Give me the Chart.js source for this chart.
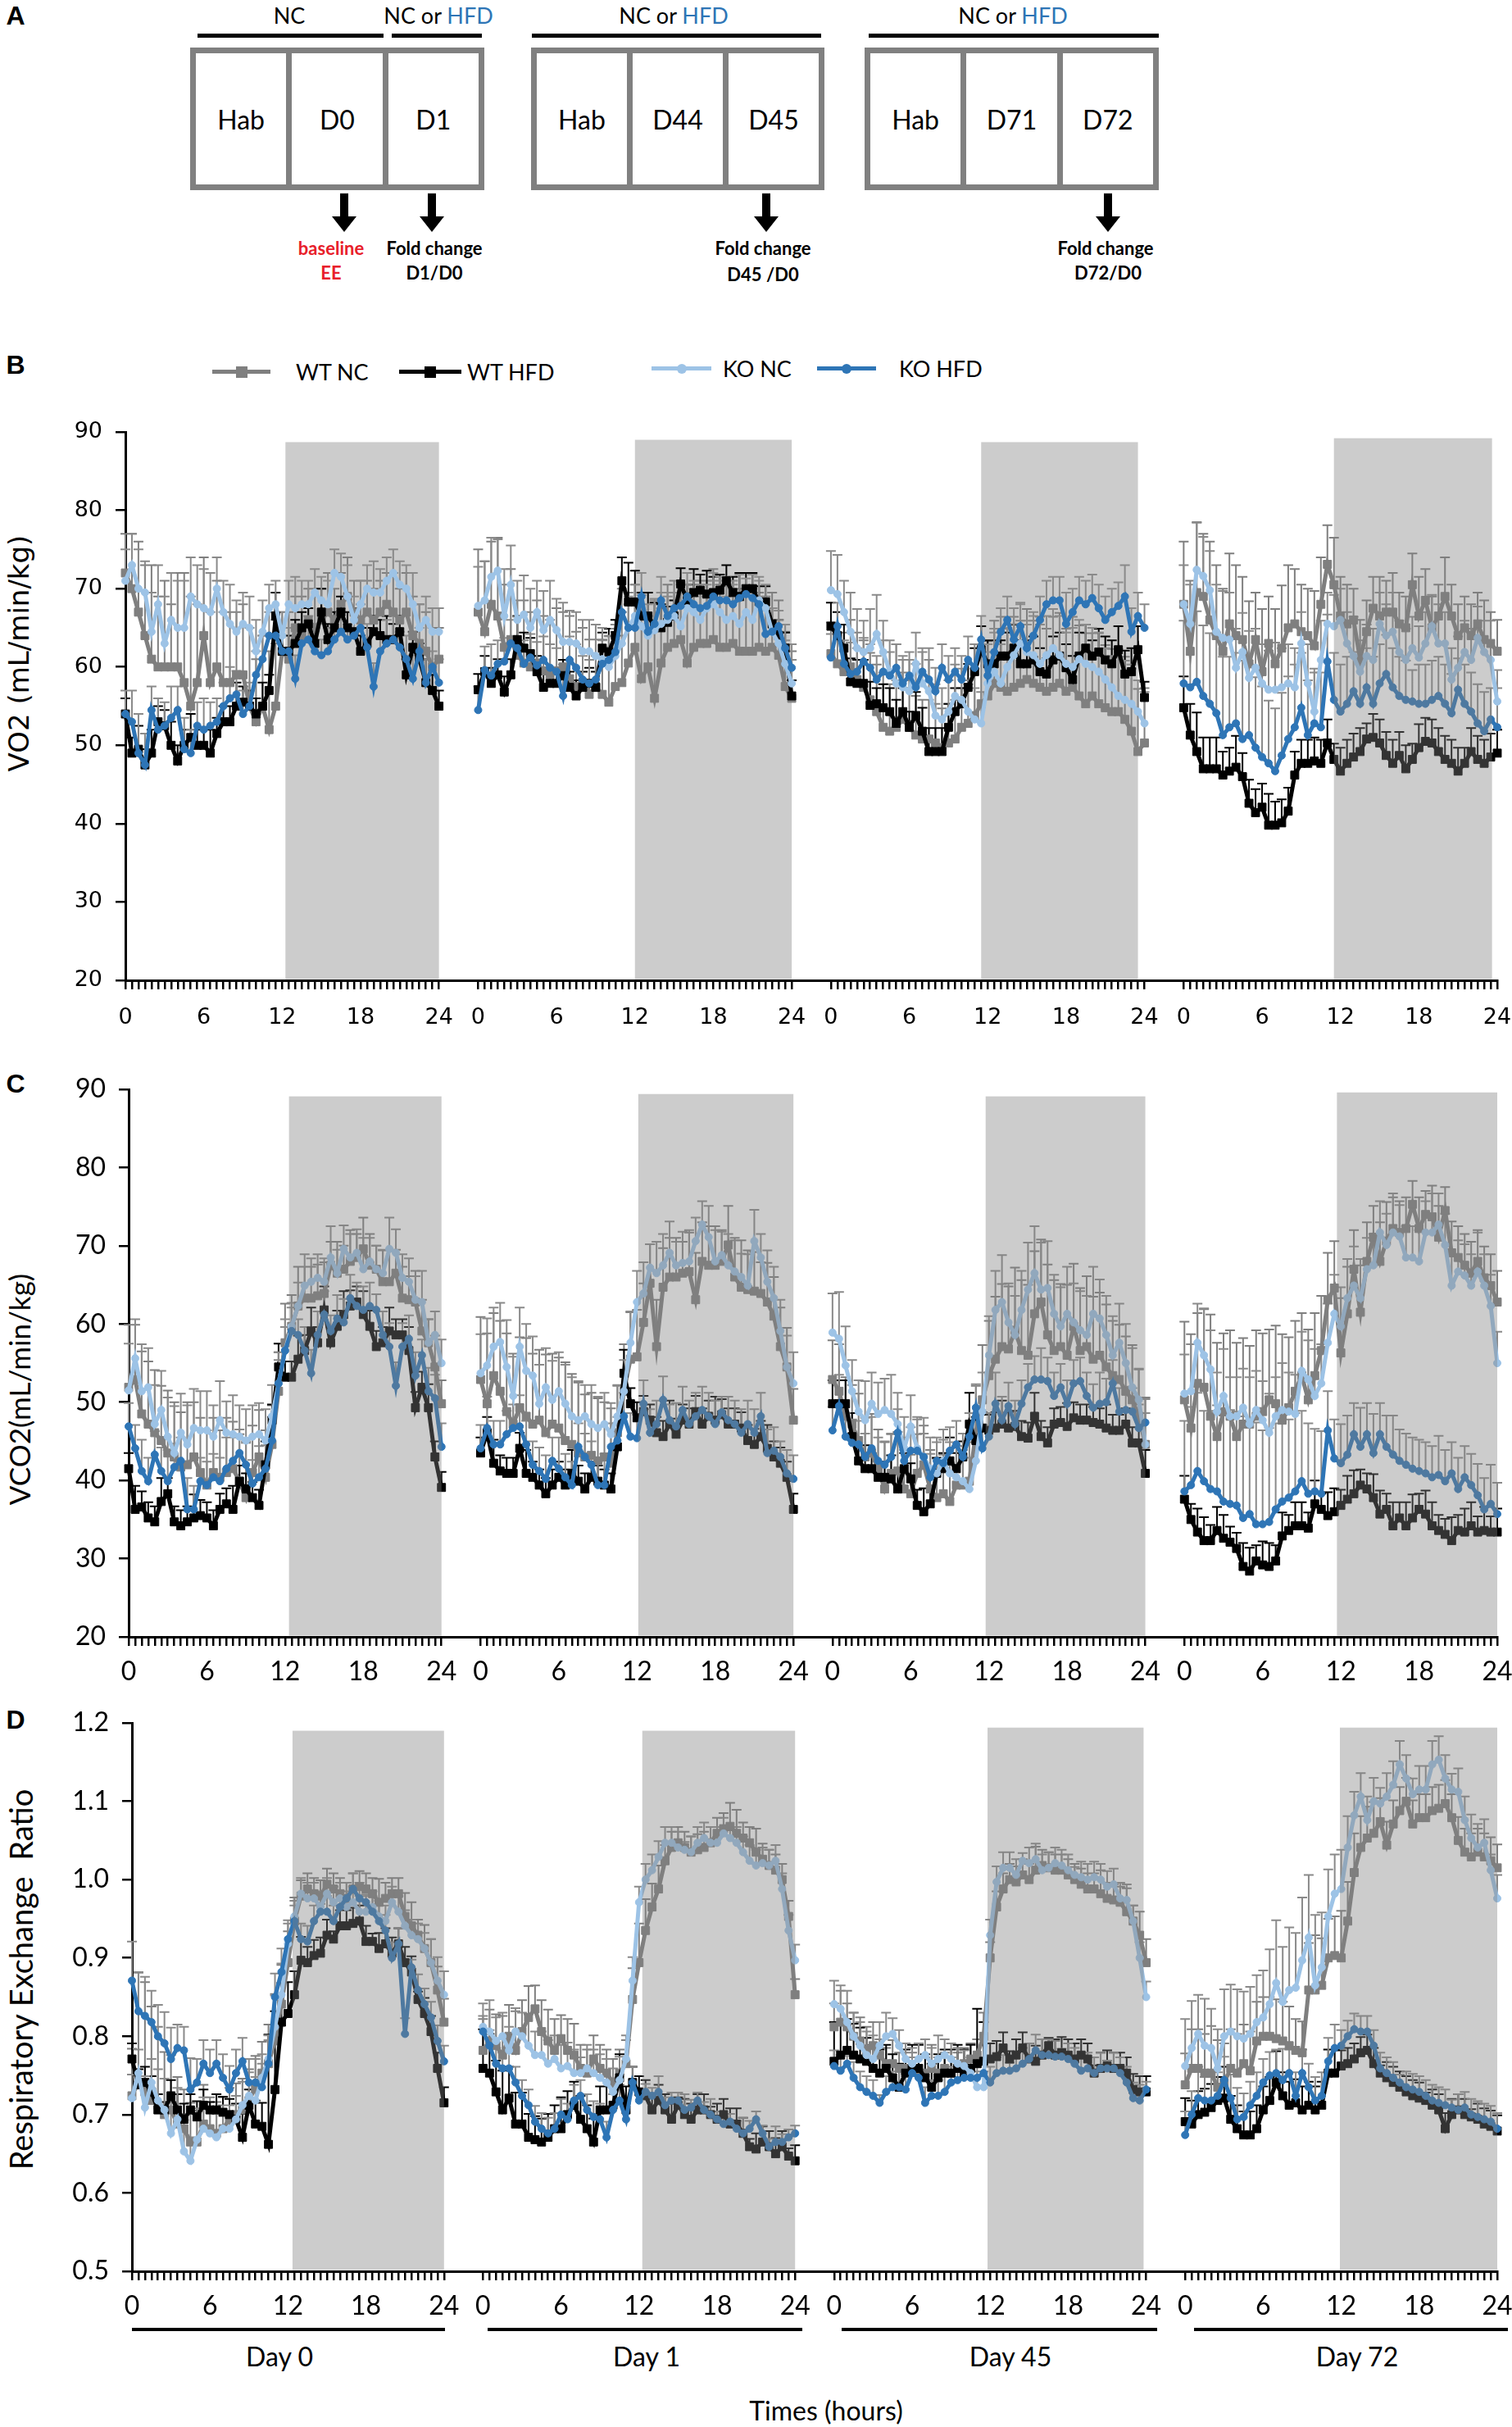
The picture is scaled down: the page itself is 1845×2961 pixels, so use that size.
<!DOCTYPE html>
<html>
<head>
<meta charset="utf-8">
<script src="https://cdn.jsdelivr.net/npm/chart.js@4.4.1/dist/chart.umd.min.js"></script>
<style>
  body { margin: 0; background: #fff; width: 1845px; height: 2961px; position: relative; overflow: hidden; font-family: Lato, "Open Sans", sans-serif; color: #000; }
  .abs { position: absolute; }
  .c { position: absolute; transform: translate(-50%, -50%); white-space: nowrap; }
  .l { position: absolute; transform: translateY(-50%); white-space: nowrap; }
  .letter { font-family: "Liberation Sans", Arial, sans-serif; font-weight: bold; font-size: 32px; }
  .box { position: absolute; box-sizing: border-box; border: 7px solid #808080; display: flex; height: 174px; top: 58px; }
  .box div { flex: 1; display: flex; align-items: center; justify-content: center; font-size: 32px; }
  .box div + div { border-left: 7px solid #808080; }
  .bar { position: absolute; height: 5px; background: #000; }
  .top { font-size: 27px; }
  .hfd { color: #2e75b6; }
  .note { font-weight: bold; font-size: 22px; }
  .leg { position: absolute; height: 5px; margin-top: -2px; }
  .leg i { position: absolute; left: 50%; top: 50%; transform: translate(-50%, -50%); }
  .sq { width: 14px; height: 14px; }
  .ci { width: 12px; height: 12px; border-radius: 50%; }
  .legtxt { font-size: 27px; }
  .ytitle { position: absolute; transform: translate(-50%, -50%) rotate(-90deg); white-space: nowrap; }
</style>
</head>
<body>

<!-- Panel A: protocol schematic -->
<div class="c letter" style="left:19px;top:19px">A</div>
<div class="c top" style="left:353px;top:18px">NC</div>
<div class="c top" style="left:535px;top:18px">NC or <span class="hfd">HFD</span></div>
<div class="c top" style="left:822px;top:18px">NC or <span class="hfd">HFD</span></div>
<div class="c top" style="left:1236px;top:18px">NC or <span class="hfd">HFD</span></div>
<div class="bar" style="left:241px;top:41px;width:227px"></div>
<div class="bar" style="left:478px;top:41px;width:110px"></div>
<div class="bar" style="left:649px;top:41px;width:353px"></div>
<div class="bar" style="left:1060px;top:41px;width:354px"></div>
<div class="box" style="left:232px;width:359px"><div>Hab</div><div>D0</div><div>D1</div></div>
<div class="box" style="left:648px;width:358px"><div>Hab</div><div>D44</div><div>D45</div></div>
<div class="box" style="left:1055px;width:359px"><div>Hab</div><div>D71</div><div>D72</div></div>
<svg class="abs" style="left:402px;top:236px" width="36" height="48"><path d="M13 0H23V28H33L18 47L3 28H13Z" fill="#000"/></svg>
<svg class="abs" style="left:509px;top:236px" width="36" height="48"><path d="M13 0H23V28H33L18 47L3 28H13Z" fill="#000"/></svg>
<svg class="abs" style="left:917px;top:236px" width="36" height="48"><path d="M13 0H23V28H33L18 47L3 28H13Z" fill="#000"/></svg>
<svg class="abs" style="left:1334px;top:236px" width="36" height="48"><path d="M13 0H23V28H33L18 47L3 28H13Z" fill="#000"/></svg>
<div class="c note" style="left:404px;top:302px;color:#e8202a">baseline</div>
<div class="c note" style="left:404px;top:332px;color:#e8202a">EE</div>
<div class="c note" style="left:530px;top:302px">Fold change</div>
<div class="c note" style="left:530px;top:332px">D1/D0</div>
<div class="c note" style="left:931px;top:302px">Fold change</div>
<div class="c note" style="left:931px;top:334px">D45 /D0</div>
<div class="c note" style="left:1349px;top:302px">Fold change</div>
<div class="c note" style="left:1352px;top:332px">D72/D0</div>

<!-- Panel letters, legend, axis titles -->
<div class="c letter" style="left:19px;top:445px">B</div>
<div class="c letter" style="left:19px;top:1322px">C</div>
<div class="c letter" style="left:19px;top:2098px">D</div>

<div class="leg" style="left:259px;top:453px;width:71px;background:#7f7f7f"><i class="sq" style="background:#7f7f7f"></i></div>
<div class="l legtxt" style="left:361px;top:453px">WT NC</div>
<div class="leg" style="left:487px;top:453px;width:76px;background:#000"><i class="sq" style="background:#000"></i></div>
<div class="l legtxt" style="left:570px;top:453px">WT HFD</div>
<div class="leg" style="left:795px;top:449px;width:73px;background:#9dc3e6"><i class="ci" style="background:#9dc3e6"></i></div>
<div class="l legtxt" style="left:882px;top:449px">KO NC</div>
<div class="leg" style="left:997px;top:449px;width:72px;background:#2e75b6"><i class="ci" style="background:#2e75b6"></i></div>
<div class="l legtxt" style="left:1097px;top:449px">KO HFD</div>

<div class="ytitle" style="left:23px;top:797px;font-family:'DejaVu Sans';font-size:34px">VO2 (mL/min/kg)</div>
<div class="ytitle" style="left:23px;top:1695px;font-size:35px">VCO2(mL/min/kg)</div>
<div class="ytitle" style="left:25px;top:2415px;font-size:38px">Respiratory Exchange&nbsp; Ratio</div>

<canvas id="vo2" class="abs" style="left:0;top:480px" width="1845" height="786"></canvas>
<canvas id="vco2" class="abs" style="left:0;top:1290px" width="1845" height="777"></canvas>
<canvas id="rer" class="abs" style="left:0;top:2060px" width="1845" height="781"></canvas>

<div class="bar" style="left:161px;top:2840px;width:382px;height:4px"></div>
<div class="bar" style="left:595px;top:2840px;width:384px;height:4px"></div>
<div class="bar" style="left:1027px;top:2840px;width:385px;height:4px"></div>
<div class="bar" style="left:1457px;top:2840px;width:383px;height:4px"></div>
<div class="c" style="left:341px;top:2874px;font-size:32px">Day 0</div>
<div class="c" style="left:789px;top:2874px;font-size:32px">Day 1</div>
<div class="c" style="left:1233px;top:2874px;font-size:32px">Day 45</div>
<div class="c" style="left:1656px;top:2874px;font-size:32px">Day 72</div>
<div class="c" style="left:1008px;top:2940px;font-size:32px">Times (hours)</div>

<script>
// -------------------------
// Data, 30-min bins 0..24 h
// -------------------------
const HOURS = [0,0.5,1,1.5,2,2.5,3,3.5,4,4.5,5,5.5,6,6.5,7,7.5,8,8.5,9,9.5,10,10.5,11,11.5,12,12.5,13,13.5,14,14.5,15,15.5,16,16.5,17,17.5,18,18.5,19,19.5,20,20.5,21,21.5,22,22.5,23,23.5,24];
const HOUR_LABELS = [0, 6, 12, 18, 24];
const DAYS = ['Day 0', 'Day 1', 'Day 45', 'Day 72'];
const SERIES = ['WT NC', 'WT HFD', 'KO NC', 'KO HFD'];

// VO2 (mL/min/kg)
const vo2_d0_wtNC  = [72,70,67,64,61,60,60,60,60,58,55,58,64,58,60,58,58,59,59,55,53,55,52,55,62,61,65,64,66,65,66,67,66,68,69,67,66,67,66,67,68,67,66,67,64,63,62,60,61];
const vo2_d0_wtHFD = [54,49,49.5,47.5,49,53,52.5,50,48,50,51,50,50,49,51.5,53,53,55,55.5,55,54,55,57,66.5,62,62,63,65,65.5,63,67,63.5,65,67,65,64.5,62,63,64.5,64,63.5,63.5,64.5,59,62.5,61,58,57,55];
const vo2_d0_koNC  = [71,73,70,69.5,64.5,68,63,66,65,65,69,68,67.5,67,70,67,65.5,64.5,65.5,65,62,64.5,67.5,68,64,68,67.5,68,68,69.5,68.5,68,72,71.5,69,66,68,70,69.5,69.5,71,72,70.5,70,68,65,66,64.5,64.5];
const vo2_d0_koHFD = [54,53,49,47.5,54.5,52,52.5,53.5,54.5,49.5,49,52.5,52,52.5,53,55,56,56.5,54,55,59,61,64,64,62,62,58.5,63,63.5,62,61.5,62,63.5,64.5,63.5,64,65,62.5,57.5,62,63,63.5,62.5,61,58.5,62,58,60,58];
const vo2_d1_wtNC  = [67,64.5,68,66.5,62.5,63.5,61.5,60.5,60,60.5,59.5,59,59.5,60,58.5,57.5,58,56.5,57.5,56.5,55.5,57.5,58,60.5,62.5,58.5,60,56,60.5,62.5,63,63.5,60.5,62.5,63,63,63.5,62.5,62.5,63,62,62,62,62.5,62,62.5,61.5,57.5,56];
const vo2_d1_wtHFD = [57.1,59.4,57.9,59,56.8,59,63.5,62.4,61.7,59.4,57.4,57.9,57.9,58.9,57.4,56.3,57.4,57.9,57.4,62.4,61.9,64,71,68.3,68.3,66.5,66.5,65.2,65,65.7,66.5,70.6,68.5,69.5,69.8,69.3,69.5,69.8,71,69.5,69,70,70,68.3,68.3,65.5,64,62.4,56.3];
const vo2_d1_koNC  = [67.8,68.5,71.5,72.3,66.5,70.5,66,66.7,65,67,64.7,66,64.7,63.2,63.2,63,62,62,61.4,61,60,61.4,63,65,66.5,65.2,64,64.7,65.5,66,66.5,65.2,67.5,67,66,67.5,68,67,66,66.5,65.5,67,66,68.5,67.5,64.5,63,60.4,57.9];
const vo2_d1_koHFD = [54.5,59.6,58.9,60.4,60.7,63,62.4,60.4,61.2,60.2,60.9,59.9,59.4,56.3,60.9,59.9,58.4,57.9,58.4,60.4,60.9,61.9,67,65,65,69,64.5,65.5,68.5,66.5,67.5,67.8,69,68,67.5,67.8,69,68.5,68.5,68,68.8,69.3,68.8,68,64.2,64.5,65.2,62.4,59.9];
const vo2_d45_wtNC  = [61.7,60.4,59.4,60,58.4,57.4,55.8,54.3,52.3,51.8,52.3,53.3,52.3,51.3,50.8,50.8,50.3,49.7,50.3,50.8,52.3,52.8,53.8,55.3,56.3,57.9,57.4,56.9,57.4,57.9,58.4,57.9,57.4,56.9,57.4,57.9,56.9,57.4,56.3,55.3,56.3,55.3,54.8,54.3,54.3,53.3,51.8,49.2,50.3];
const vo2_d45_wtHFD = [65.2,64,62.4,58.1,57.9,57.9,55.1,55.3,54.8,54.3,52.8,54.3,52.3,53.8,51.8,49.2,49.2,49.2,52.3,54.3,55.3,57.4,59.4,62.2,60.4,60.4,61.4,61.4,62.4,60.4,60.4,60.9,59.4,59.1,60.9,61.4,59.9,58.4,61.4,62.4,61.4,61.9,60.9,60.4,62.2,59.1,59.4,62.2,56.1];
const vo2_d45_koNC  = [69.8,69.3,67,64.5,62.4,61.9,62.4,64.2,61.9,59.4,57.9,57.4,56.9,60.4,57.9,56.9,53.8,53.3,54.3,56.3,55.8,54.3,53.3,52.8,57.9,59.4,57.9,60,61.5,63,61.9,61.5,60.4,61.5,62.4,61.5,60.4,60,61,60.4,60,59.4,58.4,57.4,56.3,55.8,55.3,54.3,52.8];
const vo2_d45_koHFD = [61.2,65.2,60.4,59.1,59.4,60.7,59.9,58.4,59.4,58.9,59.9,57.9,58.9,57.4,59.4,58.4,56.9,59.9,58.4,59.4,58.4,60.9,59.9,63.5,58.9,61.9,64.5,66,63.5,65.2,62.4,64,66,68,68.5,68.5,65.5,67,68.5,68,68.8,67.5,66,67,67.8,69,64.5,66.5,65];
const vo2_d72_wtNC  = [68,62,69.5,69,66,64,62,65.5,64,63.5,60.4,63.5,59.4,63,60.4,62.4,65,65.5,64.5,64,62.7,68,73.1,70.5,66.5,65.5,66,61,64.5,67.5,66.5,67,67,65.5,65,70.5,66.5,68.5,65,66.5,69,66.5,64,65,64,65.5,63.5,63,62];
const vo2_d72_wtHFD = [54.8,51.3,49.2,47,47,47,46.2,46.7,47.2,46,42.6,41.4,42.1,39.8,39.8,40.1,41.6,46.2,47.7,47.7,48,47.7,50.3,48.2,46.7,47.7,48.5,49.2,50.8,51,50.3,48.7,47.7,48.7,47,48.2,49.7,50.5,50.3,49.2,48.2,47.7,46.7,47.7,49.2,48.2,47.7,48.5,49];
const vo2_d72_koNC  = [68,65.5,72.4,71.6,69.8,64.5,63.7,63.5,59.9,61.9,58.6,59.9,57.9,57.1,57.1,57.4,57.9,57.4,63,57.9,54.3,60.9,65.5,65.2,66,63,61.4,59.4,61.4,60.9,65.5,64,64.5,61.9,60.9,62.4,61.2,63,65.2,63,63,58.4,59.9,61.9,60.9,63.7,61.9,60.9,55.6];
const vo2_d72_koHFD = [57.9,57.4,58.1,56.3,55.3,54.1,51.3,52.3,52.8,50.8,51.3,49.7,48.5,47.7,46.7,48.7,50.8,52.3,54.8,51.3,52.8,52.3,60.7,55.8,54.3,55.3,56.9,55.3,57.4,55.3,57.9,59.1,57.4,56.3,55.8,55.6,55.3,55.3,55.8,56.3,55.3,54.1,57.1,55.3,54.3,52.8,51.8,53.3,52.3];

// VO2 SEM (upper bars)
const vo2_d0_wtNC_sd  = [5,7,9,9,12,9,11,8,12,14,14,10,10,9,11,9,9,8,9,10,8,9,10,8,5,6,4,5,4,5,4,5,4,4,5,4,5,4,4,4,4,5,4,5,5,5,5,5,4];
const vo2_d0_wtHFD_sd = [2,2,3,2,3,2,2,3,2,2,3,2,2,3,2,2,2,3,2,2,2,3,2,3,2,2,3,2,2,2,3,2,2,2,2,3,2,2,2,2,3,2,2,2,2,2,3,2,2];
const vo2_d0_koNC_sd  = [4,4,5,4,5,5,6,6,6,6,5,5,5,5,4,4,5,4,4,4,4,4,3,3,3,3,4,3,3,3,3,3,3,3,4,3,3,3,4,3,3,3,3,3,4,3,3,3,3];
const vo2_d0_koHFD_sd = [3,4,5,4,3,4,3,4,3,4,3,3,4,3,3,3,4,3,3,3,3,3,3,2,3,3,3,2,3,3,2,3,3,3,2,3,3,3,3,2,3,3,2,3,3,3,3,2,3];
const vo2_d1_wtNC_sd  = [8,9,8,10,8,9,7,8,7,8,7,7,8,7,8,7,7,7,6,7,7,7,6,9,8,7,6,9,7,8,8,7,9,8,8,8,9,8,8,7,8,8,8,7,7,7,7,7,6];
const vo2_d1_wtHFD_sd = [2,2,2,2,2,2,3,2,2,2,2,2,2,2,2,2,2,2,2,2,3,2,3,5,4,3,3,3,3,2,2,2,2,3,2,3,2,2,2,2,3,2,2,2,2,2,2,2,2];
const vo2_d1_koNC_sd  = [5,5,5,4,6,5,5,5,5,4,5,5,4,5,4,4,4,4,4,4,4,4,4,4,4,4,4,4,4,3,3,3,3,3,3,3,3,4,3,4,3,3,3,3,3,3,3,3,3];
const vo2_d1_koHFD_sd = [3,3,4,3,3,3,4,3,3,3,3,3,3,4,3,3,3,3,3,3,3,3,3,3,3,3,2,3,3,3,2,3,3,3,3,2,3,3,3,3,3,2,3,3,3,3,2,3,3];
const vo2_d45_wtNC_sd  = [4,5,5,6,6,6,6,6,7,6,6,6,6,5,5,5,5,5,5,5,5,5,6,6,7,8,9,8,9,8,9,8,9,8,9,9,8,9,9,9,8,9,8,8,8,8,8,8,7];
const vo2_d45_wtHFD_sd = [3,3,3,3,3,3,3,2,3,3,3,3,2,3,3,3,3,3,3,3,2,3,3,3,3,3,2,3,3,3,3,3,3,2,3,3,3,3,3,3,2,3,3,3,3,3,3,3,2];
const vo2_d45_koNC_sd  = [5,5,4,5,5,4,5,5,4,4,5,4,4,4,4,4,4,4,4,4,4,4,4,4,5,5,5,5,4,5,4,5,5,5,5,5,4,5,5,5,5,5,4,4,5,5,5,4,4];
const vo2_d45_koHFD_sd = [3,3,3,4,3,3,3,3,4,3,3,3,3,3,3,4,3,3,3,3,3,3,3,3,3,3,3,3,4,3,3,3,3,3,3,3,4,3,3,3,3,3,3,3,3,4,3,3,3];
const vo2_d72_wtNC_sd  = [8,9,9,8,10,9,8,9,9,8,8,6,8,6,7,8,8,7,6,6,7,6,5,6,5,5,4,5,4,4,5,4,5,4,4,4,5,4,4,4,5,4,4,4,4,4,5,4,4];
const vo2_d72_wtHFD_sd = [4,4,5,4,4,4,3,3,4,3,3,3,3,4,3,3,3,3,3,3,3,3,3,2,3,3,3,3,2,3,3,3,3,3,3,2,3,3,3,3,3,3,3,2,3,3,3,3,3];
const vo2_d72_koNC_sd  = [5,5,6,5,5,6,6,6,5,5,6,5,5,5,6,5,5,5,4,5,5,5,4,4,4,4,5,4,4,4,4,4,5,4,4,4,4,4,4,5,4,4,4,4,4,4,4,5,4];
const vo2_d72_koHFD_sd = [8,8,9,9,9,10,10,9,9,10,9,9,9,8,8,8,8,8,7,7,7,7,6,6,6,6,5,5,5,6,5,5,5,5,5,4,5,5,5,5,5,5,4,5,5,5,5,4,5];

// VCO2 (mL/min/kg)
const vco2_d0_wtNC  = [51.9,52.9,48.5,47.2,46.1,45.1,43.5,43,41.7,42,43,41,39.4,41,40.4,41,41.5,39.9,37.8,41,43,40.4,44.6,51.4,57.6,59.7,62.3,63.3,63.3,63.6,63.9,67.5,66.5,67,68,68.5,69.6,67.5,67,65.4,65.4,66.5,63.3,63.1,62.8,59.1,57.6,54.5,49.8];
const vco2_d0_wtHFD = [41.5,36.3,36.6,35.2,34.7,37.3,38.3,34.7,34.2,34.7,35.2,35.5,35.2,34.2,36.3,37,36.3,39.9,38.9,37.8,36.8,42,47.7,54.5,53.2,53.2,55.5,56.6,59.1,57.6,61.8,57.6,59.7,61.2,62.3,62.8,61.2,59.7,57.1,57.6,59.1,58.6,58.6,56.6,49.3,51.9,49.3,43,39.1];
const vco2_d0_koNC  = [51.5,55.6,51.4,51.9,47.2,49,45.6,43.5,46.1,44.6,46.7,46.4,46.4,45.6,47.7,46.1,45.9,45.6,45.1,45.6,45.9,45.1,48.2,52.4,56.6,59.7,62.3,64.9,65.4,65.9,65.4,68.5,66.5,69.6,68.5,69.1,67,68,67,66.5,69.6,69.1,65.9,65.4,63.1,62.8,57.6,58.6,55];
const vco2_d0_koHFD = [46.9,44.1,41.2,39.9,43.3,41.2,39.9,41.7,42.5,36.3,36.3,39.9,39.4,40.4,39.9,41.5,42.5,43.5,42,39.6,40.4,41.5,45.1,52.4,56.6,59.1,58.6,56.6,53.7,58.6,61.2,59.1,60.7,60.2,63.3,62.3,61.8,62.3,61.8,58.6,57.1,52.1,57.1,58.1,53.4,56,51.4,50.5,44.3];
const vco2_d1_wtNC  = [52.9,49.8,53.4,51.4,48.8,47.2,49.3,48.2,47.2,47.7,46.1,47.2,46.7,45.1,44.6,43.5,43,43.2,42.5,43,42.2,46.1,51.4,55.5,55.8,60.2,65.2,57.1,64.7,66,66,66.5,66.7,63.1,68,67.5,67.5,68,70.1,66,64.7,64.4,64.2,63.9,62.8,61,57.1,54.5,47.7];
const vco2_d1_wtHFD = [43.5,46.1,42.2,41.2,40.9,40.9,44.1,40.9,40.4,39.4,38.3,39.4,40.4,39.4,40.9,39.9,38.9,40.4,39.9,39.4,38.9,44.3,53.7,49.8,48,48.8,47.7,46.1,45.6,47.2,45.9,47.7,47.2,48.8,47.2,48.2,47.7,48.4,47.2,47.2,46.7,45.1,44.6,45.6,44.1,43,42.2,40.4,36.3];
const vco2_d1_koNC  = [53.7,54.7,57.1,57.7,54.5,50.8,57.1,54,53.4,49.8,51.9,50.3,51.4,49.8,48.2,47.7,48.2,47.2,46.7,47.2,45.9,48.2,51.4,57.6,62.8,63.9,67.2,66.5,67.5,69.1,67.5,67.8,68,70.6,72.7,71.1,68,68.8,67.5,66.7,66,64.9,70.6,68.5,65.4,63.3,59.1,54.5,52.4];
const vco2_d1_koHFD = [44.1,46.7,44.6,44.6,45.9,46.7,46.9,44.6,42,41.2,40.2,42.5,41.5,40.4,39.4,44.3,43,42,39.4,39.4,44.3,45.1,48.2,45.6,45.4,49.8,46.1,47.2,50.3,47.7,46.9,49,47.2,48.2,49,48.2,47.2,48.7,47.7,47.2,46.1,47.2,46.1,48.2,43.5,43.8,43,40.9,40.2];
const vco2_d45_wtNC  = [52.9,51.4,48.2,47.2,45.1,43,43.5,41.5,38.9,40.9,41.2,38.9,38.3,40.9,42,38.9,37.8,38.3,37.3,39.4,39.4,39.9,46.1,50.3,53.4,55.5,57.1,56.8,59.2,56.6,56,61.3,62.8,58.6,56.6,57.1,56,59.7,56.6,57.1,55.5,56,54.5,53.4,52.9,51.4,50.3,48.2,44.6];
const vco2_d45_wtHFD = [49.8,49.8,49.8,45.6,42.5,41.5,41.5,40.4,40.4,40.2,38.9,41.5,40.2,36.8,36,37,40.9,41.5,42.5,41.5,43,47.2,45.1,46.7,46.4,46.7,47.2,46.7,46.9,45.6,45.4,48.2,45.6,44.8,47.2,47.4,46.9,48,47.7,47.7,47.4,47.2,46.7,46.4,46.4,47.2,44.8,44.8,40.9];
const vco2_d45_koNC  = [58.9,58.1,54.7,51.4,48.8,47.7,49.8,48.5,49,48.5,47.2,44.1,46.9,44.1,43,41.5,40.9,42.5,40.9,40.4,39.9,38.9,42.5,48.8,56,61.8,62.8,60.2,58.6,61.8,64.4,66.5,64.4,64.6,61.3,59.7,61.3,60.2,59.2,58.6,61.3,60.7,58.6,56,57.6,55,51.9,50.3,44.6];
const vco2_d45_koHFD = [46.4,49.5,45.6,44.8,44.6,43,44.1,42.5,42,43,46.1,42.5,43.8,43.8,43,40.4,42.5,42.2,43.8,44.6,43,45.6,49.3,44.1,45.6,49.8,47.7,49.5,47.2,49.8,51.9,52.9,52.9,52.7,50.8,51.9,49.8,52.4,52.7,50.8,49.3,49.8,50,52.4,48.8,49,48.8,46.7,47.4];
const vco2_d72_wtNC  = [50.3,46.7,52.4,51.9,48.2,45.6,48.8,48.2,45.6,47.2,47.2,48.2,48.8,50.3,49.8,47.7,49.3,51.4,53.4,50.3,53.4,56.6,63.1,64.6,56.3,61.3,67,61.5,68,71.1,68,70.6,72.2,71.7,72.2,75.3,72.2,74,73.7,71.1,74.5,69.1,68.5,67.5,66.5,68,65.9,64.9,62.8];
const vco2_d72_wtHFD = [37.6,35,33.4,32.3,32.3,33.6,32.6,32.1,31.3,29,28.4,29.7,29.2,29,29.7,32.9,33.6,34.2,34.2,33.9,37,36.3,35.5,36,36.8,37.6,38.3,39.4,38.9,37.8,35.7,36.3,34.2,35.2,34.2,35.2,36.3,35.7,34.2,33.6,33.1,32.3,33.6,33.4,34.2,33.4,33.6,33.4,33.4];
const vco2_d72_koNC  = [51.1,51.4,57.6,56,54.2,48.8,50.8,48.2,48.2,49.3,47.2,49,47.7,46.1,48.2,49,48.8,48.5,54,52.9,50.8,52.4,57.6,61.3,59.7,63.3,64.9,63.3,67,67.5,71.7,70.1,71.7,71.2,68.5,68.5,68,71.7,71.7,72.7,70.1,64.9,66.7,66.2,64.9,66.7,64.9,62.3,55];
const vco2_d72_koHFD = [38.6,39.4,41.2,39.9,38.9,38.6,37.3,37,36.8,35.2,35.7,34.4,34.4,34.7,36.3,37.3,37.8,38.6,39.9,38.3,38.6,38.3,46.4,42.8,42.2,43.3,45.9,44.3,45.9,43.5,45.9,44.3,43.3,42.5,42,41.5,41.2,40.9,40.4,40.7,39.9,40.9,38.9,40.4,39.4,38.1,36.3,37,35.7];

// VCO2 SEM (upper bars)
const vco2_d0_wtNC_sd  = [8,7,8,8,8,7,8,7,7,8,7,7,7,7,6,7,6,6,7,6,6,6,5,5,5,4,5,4,4,4,4,3,4,3,4,3,4,4,3,4,4,3,4,3,4,4,3,4,3];
const vco2_d0_wtHFD_sd = [2,3,2,2,2,3,2,2,2,2,3,2,2,2,2,2,3,2,2,2,2,3,2,3,2,2,3,2,3,2,3,2,2,3,2,2,3,2,2,2,3,2,2,3,2,2,3,2,2];
const vco2_d0_koNC_sd  = [6,5,6,5,5,5,5,6,5,5,5,5,5,4,5,4,5,4,4,4,4,4,4,4,4,3,3,4,3,3,3,4,3,3,3,3,4,3,3,3,4,3,3,3,3,4,3,3,3];
const vco2_d0_koHFD_sd = [3,3,4,3,3,3,4,3,3,4,3,3,3,3,3,4,3,3,3,3,4,3,3,3,3,3,2,3,3,3,3,2,3,3,3,3,3,3,2,3,3,3,3,3,3,2,3,3,3];
const vco2_d1_wtNC_sd  = [8,9,8,9,10,9,9,10,9,9,10,9,9,10,9,9,8,8,8,7,7,6,6,6,6,5,5,6,5,5,5,4,5,6,5,5,5,4,5,5,6,5,5,4,5,5,5,5,4];
const vco2_d1_wtHFD_sd = [2,2,3,2,2,2,2,3,2,2,2,2,2,2,3,2,2,2,2,2,2,3,3,2,2,2,2,2,2,3,2,2,2,2,2,2,3,2,2,2,2,2,2,2,3,2,2,2,2];
const vco2_d1_koNC_sd  = [5,6,5,5,6,5,5,6,5,5,5,5,5,5,5,5,4,5,4,4,4,4,4,4,4,4,3,4,4,4,3,4,4,3,3,4,4,3,4,4,3,4,4,3,4,4,4,4,4];
const vco2_d1_koHFD_sd = [3,4,3,3,3,3,4,3,3,3,3,3,4,3,3,3,3,3,3,4,3,3,3,3,3,3,3,3,3,2,3,3,3,3,3,3,3,2,3,3,3,3,3,3,3,3,2,3,3];
const vco2_d45_wtNC_sd  = [5,6,5,5,6,5,5,5,6,5,5,5,5,5,5,5,5,5,5,5,5,5,6,7,7,8,8,8,8,9,9,8,8,9,9,8,9,8,8,9,8,8,8,7,7,7,7,6,6];
const vco2_d45_wtHFD_sd = [3,3,3,3,2,3,2,2,2,3,2,2,2,2,3,2,2,2,3,2,2,4,3,2,2,2,3,2,2,2,2,3,2,2,2,2,3,2,2,2,2,2,3,2,2,2,2,2,3];
const vco2_d45_koNC_sd  = [5,6,5,4,4,5,4,4,4,5,4,4,4,4,5,4,4,4,4,4,4,4,5,5,5,5,6,5,5,5,6,6,6,6,5,5,6,5,5,5,6,5,5,5,5,5,5,4,4];
const vco2_d45_koHFD_sd = [3,4,3,3,3,3,4,3,3,3,3,3,3,4,3,3,3,3,3,3,3,3,3,3,3,4,3,3,3,3,3,3,4,3,3,3,3,3,3,3,3,4,3,3,3,3,3,3,3];
const vco2_d72_wtNC_sd  = [10,12,9,10,13,12,10,11,12,11,10,11,10,9,10,11,9,9,8,9,8,7,6,6,7,6,5,6,5,4,5,5,4,4,4,3,4,3,4,4,3,4,4,4,4,4,4,4,4];
const vco2_d72_wtHFD_sd = [3,2,3,3,2,3,3,2,2,3,3,2,3,3,2,3,2,3,3,2,3,2,3,3,2,3,3,2,2,3,3,2,3,2,3,3,2,3,3,2,2,3,2,3,3,2,3,2,3];
const vco2_d72_koNC_sd  = [5,6,5,6,5,5,6,5,5,5,6,5,5,5,5,6,5,5,5,5,6,5,5,5,5,5,5,5,4,4,4,4,5,4,4,4,4,4,5,4,4,4,4,4,4,5,4,4,4];
const vco2_d72_koHFD_sd = [9,10,10,9,10,11,11,12,12,13,12,13,12,12,11,11,10,10,9,9,8,8,5,5,5,5,4,5,4,5,4,4,5,4,4,4,4,4,4,5,4,4,4,4,4,4,4,5,4];

// Respiratory exchange ratio
const rer_d0_wtNC  = [0.724,0.741,0.729,0.718,0.712,0.7,0.706,0.688,0.682,0.665,0.665,0.688,0.682,0.676,0.682,0.694,0.7,0.706,0.718,0.735,0.753,0.765,0.794,0.841,0.894,0.947,0.979,0.988,0.982,0.979,0.994,0.988,0.982,0.976,0.988,0.991,0.988,0.982,0.971,0.976,0.982,0.982,0.953,0.941,0.929,0.912,0.894,0.859,0.818];
const rer_d0_wtHFD = [0.771,0.738,0.741,0.729,0.706,0.706,0.724,0.706,0.694,0.706,0.697,0.712,0.706,0.706,0.703,0.7,0.694,0.671,0.712,0.688,0.685,0.662,0.732,0.818,0.829,0.853,0.897,0.894,0.903,0.906,0.929,0.924,0.941,0.941,0.944,0.947,0.921,0.921,0.912,0.918,0.906,0.918,0.894,0.882,0.847,0.829,0.806,0.759,0.715];
const rer_d0_koNC  = [0.721,0.753,0.709,0.741,0.718,0.706,0.676,0.694,0.653,0.641,0.668,0.682,0.676,0.671,0.682,0.682,0.694,0.712,0.724,0.718,0.747,0.771,0.812,0.853,0.918,0.953,0.982,0.976,0.976,0.965,0.982,0.971,0.976,0.965,0.971,0.959,0.959,0.965,0.953,0.947,0.971,0.959,0.941,0.929,0.924,0.912,0.894,0.871,0.853];
const rer_d0_koHFD = [0.871,0.832,0.826,0.818,0.8,0.791,0.771,0.785,0.782,0.732,0.741,0.765,0.753,0.765,0.747,0.732,0.753,0.768,0.741,0.741,0.735,0.765,0.85,0.882,0.924,0.947,0.924,0.921,0.947,0.959,0.959,0.947,0.965,0.976,0.988,0.976,0.971,0.959,0.947,0.935,0.9,0.918,0.803,0.888,0.859,0.841,0.824,0.794,0.768];
const rer_d1_wtNC  = [0.782,0.794,0.788,0.776,0.8,0.782,0.806,0.824,0.835,0.806,0.794,0.782,0.797,0.782,0.776,0.759,0.753,0.771,0.759,0.753,0.741,0.753,0.765,0.847,0.894,0.935,0.965,0.988,1.024,1.041,1.047,1.041,1.035,1.038,1.041,1.047,1.059,1.065,1.068,1.059,1.053,1.047,1.035,1.026,1.018,1.012,1.0,0.953,0.853];
const rer_d1_wtHFD = [0.759,0.753,0.729,0.706,0.721,0.688,0.688,0.671,0.668,0.665,0.671,0.682,0.682,0.7,0.712,0.694,0.682,0.665,0.706,0.706,0.712,0.747,0.706,0.741,0.729,0.724,0.706,0.718,0.706,0.694,0.712,0.7,0.694,0.706,0.706,0.7,0.694,0.7,0.688,0.688,0.676,0.659,0.656,0.665,0.659,0.65,0.659,0.647,0.641];
const rer_d1_koNC  = [0.812,0.806,0.794,0.8,0.782,0.806,0.8,0.788,0.776,0.776,0.765,0.771,0.759,0.762,0.753,0.753,0.759,0.753,0.747,0.741,0.729,0.744,0.771,0.871,0.971,1.0,1.012,1.029,1.047,1.047,1.041,1.038,1.035,1.047,1.053,1.047,1.047,1.059,1.053,1.047,1.035,1.024,1.018,1.021,1.018,1.024,0.988,0.935,0.897];
const rer_d1_koHFD = [0.806,0.788,0.765,0.759,0.759,0.741,0.724,0.712,0.691,0.682,0.676,0.682,0.7,0.694,0.718,0.724,0.706,0.697,0.694,0.671,0.706,0.718,0.694,0.741,0.718,0.729,0.724,0.729,0.712,0.718,0.718,0.706,0.709,0.718,0.706,0.7,0.694,0.688,0.691,0.682,0.676,0.682,0.694,0.676,0.659,0.665,0.665,0.671,0.676];
const rer_d45_wtNC  = [0.812,0.818,0.812,0.8,0.794,0.782,0.788,0.776,0.765,0.765,0.759,0.759,0.759,0.753,0.753,0.759,0.753,0.759,0.753,0.759,0.765,0.771,0.776,0.8,0.9,0.965,0.988,1.0,0.997,1.006,1.0,1.012,1.018,1.015,1.012,1.012,1.006,1.0,0.994,0.988,0.988,0.982,0.976,0.974,0.971,0.959,0.947,0.929,0.894];
const rer_d45_wtHFD = [0.768,0.776,0.782,0.776,0.771,0.768,0.759,0.753,0.759,0.747,0.735,0.753,0.759,0.759,0.747,0.735,0.747,0.753,0.753,0.759,0.753,0.759,0.765,0.768,0.771,0.774,0.785,0.771,0.776,0.785,0.771,0.768,0.776,0.788,0.776,0.779,0.776,0.771,0.776,0.771,0.753,0.759,0.762,0.759,0.759,0.753,0.732,0.729,0.729];
const rer_d45_koNC  = [0.841,0.835,0.818,0.8,0.788,0.776,0.771,0.788,0.8,0.803,0.788,0.771,0.765,0.771,0.776,0.765,0.771,0.776,0.771,0.765,0.762,0.753,0.735,0.735,0.929,0.997,1.015,1.015,1.006,1.024,1.021,1.026,1.012,1.015,1.021,1.018,1.012,1.006,1.003,1.0,1.003,1.0,0.991,0.994,0.976,0.974,0.947,0.9,0.85];
const rer_d45_koHFD = [0.762,0.756,0.765,0.747,0.735,0.729,0.724,0.715,0.729,0.735,0.735,0.732,0.753,0.747,0.715,0.724,0.724,0.729,0.741,0.744,0.747,0.747,0.747,0.753,0.741,0.753,0.756,0.756,0.759,0.765,0.771,0.782,0.776,0.776,0.774,0.774,0.771,0.765,0.756,0.759,0.753,0.759,0.759,0.759,0.753,0.741,0.721,0.718,0.732];
const rer_d72_wtNC  = [0.738,0.759,0.759,0.753,0.753,0.735,0.741,0.759,0.753,0.765,0.756,0.794,0.8,0.8,0.797,0.794,0.788,0.782,0.779,0.859,0.859,0.865,0.9,0.903,0.9,0.947,1.009,1.041,1.053,1.059,1.074,1.044,1.071,1.088,1.1,1.071,1.079,1.079,1.088,1.091,1.097,1.079,1.05,1.035,1.029,1.035,1.029,1.024,1.015];
const rer_d72_wtHFD = [0.691,0.688,0.7,0.703,0.709,0.718,0.721,0.694,0.682,0.674,0.674,0.682,0.706,0.718,0.741,0.724,0.712,0.715,0.706,0.712,0.706,0.712,0.753,0.753,0.762,0.765,0.771,0.779,0.782,0.765,0.753,0.747,0.741,0.735,0.729,0.724,0.721,0.718,0.712,0.706,0.682,0.7,0.706,0.7,0.697,0.694,0.688,0.685,0.679];
const rer_d72_koNC  = [0.762,0.785,0.803,0.788,0.785,0.759,0.8,0.806,0.8,0.797,0.803,0.818,0.824,0.841,0.868,0.844,0.859,0.862,0.897,0.926,0.865,0.888,0.953,0.982,0.988,1.041,1.082,1.106,1.076,1.1,1.097,1.106,1.121,1.147,1.129,1.109,1.115,1.115,1.147,1.153,1.129,1.115,1.112,1.076,1.053,1.041,1.047,1.012,0.976];
const rer_d72_koHFD = [0.674,0.7,0.721,0.718,0.718,0.724,0.744,0.721,0.694,0.697,0.712,0.724,0.741,0.75,0.753,0.744,0.753,0.724,0.753,0.735,0.718,0.724,0.768,0.785,0.788,0.8,0.809,0.806,0.806,0.788,0.759,0.753,0.747,0.741,0.735,0.732,0.729,0.724,0.718,0.715,0.712,0.709,0.706,0.709,0.7,0.697,0.694,0.691,0.682];

// RER SEM, in hundredths
const rer_d0_wtNC_sd  = [6,14,14,12,10,8,7,6,5,5,4,5,4,4,4,4,4,4,4,4,4,5,6,5,4,3,2,2,2,2,2,2,2,2,2,2,2,2,3,2,2,2,3,3,2,3,3,3,3];
const rer_d0_wtHFD_sd = [2,2,2,2,2,1,2,2,2,2,2,2,1,2,2,2,2,3,2,3,3,14,10,5,4,3,3,2,2,2,2,1,2,2,2,2,2,1,2,2,2,2,2,2,1,2,2,2,2];
const rer_d0_koNC_sd  = [3,3,4,3,4,4,4,4,4,3,4,4,3,3,3,3,3,3,3,3,3,3,4,4,3,2,2,2,2,2,2,2,2,2,2,2,2,2,2,2,2,2,2,2,2,2,3,3,3];
const rer_d0_koHFD_sd = [5,5,5,4,4,4,4,3,3,4,3,3,3,3,3,3,3,3,3,3,3,3,3,3,2,2,2,2,2,1,2,2,2,2,2,2,1,2,2,2,2,2,2,1,2,2,2,2,2];
const rer_d1_wtNC_sd  = [4,4,4,5,4,5,4,4,3,4,4,4,3,4,4,3,3,3,3,3,3,3,3,4,5,4,3,3,2,2,2,2,2,2,2,2,2,2,3,3,2,2,3,2,2,2,2,2,2];
const rer_d1_wtHFD_sd = [5,5,4,5,4,4,4,3,3,3,3,3,4,3,3,3,3,3,3,3,3,3,3,2,2,2,2,2,2,2,1,2,2,2,2,1,2,2,2,2,2,1,2,2,2,2,2,1,2];
const rer_d1_koNC_sd  = [3,4,3,3,3,3,3,4,3,3,3,3,3,3,3,2,3,3,3,3,3,3,3,3,2,2,2,2,2,2,2,1,2,2,2,2,2,2,1,2,2,2,2,2,2,2,2,2,2];
const rer_d1_koHFD_sd = [2,2,2,2,2,2,2,2,2,2,2,2,2,2,2,2,2,2,2,2,2,2,2,2,1,1,1,2,1,1,1,2,1,1,1,2,1,1,1,1,2,1,1,1,1,2,1,1,1];
const rer_d45_wtNC_sd  = [3,4,3,3,3,3,3,2,2,3,2,2,2,2,2,3,2,2,2,2,2,2,2,3,2,2,2,2,2,2,2,3,2,2,2,2,2,2,2,2,2,3,2,2,2,3,2,3,3];
const rer_d45_wtHFD_sd = [5,4,4,4,4,3,3,3,3,3,3,3,3,3,3,3,3,3,3,3,3,3,7,5,2,2,2,1,2,2,2,2,2,1,2,2,2,2,2,2,1,2,2,2,2,2,2,2,2];
const rer_d45_koNC_sd  = [3,3,4,3,3,3,3,3,3,2,2,2,2,2,2,2,3,2,2,2,2,2,2,2,2,2,2,2,2,1,2,2,2,2,2,2,2,1,2,2,2,2,2,2,2,2,2,2,2];
const rer_d45_koHFD_sd = [2,2,1,2,2,2,2,1,2,2,2,2,2,1,2,2,2,2,2,2,1,2,2,2,2,2,2,1,2,2,2,2,2,2,2,1,2,2,2,2,2,2,1,2,2,2,2,2,1];
const rer_d72_wtNC_sd  = [4,5,5,5,6,6,5,5,5,5,5,5,5,5,5,5,5,4,4,6,7,6,5,5,6,5,5,4,4,4,3,3,3,3,3,3,3,3,3,3,3,3,3,3,3,3,3,3,3];
const rer_d72_wtHFD_sd = [3,3,3,3,3,3,4,3,3,3,3,3,3,3,4,3,3,3,3,3,3,3,3,3,2,2,2,2,2,2,1,2,2,2,2,2,2,1,2,2,2,2,2,2,1,2,2,2,2];
const rer_d72_koNC_sd  = [6,6,5,6,5,5,6,6,6,6,6,6,6,7,8,7,8,7,8,8,9,7,6,5,5,4,3,3,3,3,2,3,3,3,3,2,3,3,3,3,3,2,3,3,3,3,3,2,3];
const rer_d72_koHFD_sd = [3,3,4,3,3,3,3,3,4,3,3,3,3,3,3,4,3,3,3,3,3,3,3,3,2,2,2,2,2,2,2,2,2,1,2,2,2,2,2,2,2,1,2,2,2,2,2,2,2];

// -------------------------
// Tables built from the arrays above (one row per day)
// -------------------------
const TABLES = {
    vo2: [
        { wtNC: [vo2_d0_wtNC, vo2_d0_wtNC_sd], wtHFD: [vo2_d0_wtHFD, vo2_d0_wtHFD_sd], koNC: [vo2_d0_koNC, vo2_d0_koNC_sd], koHFD: [vo2_d0_koHFD, vo2_d0_koHFD_sd] },
        { wtNC: [vo2_d1_wtNC, vo2_d1_wtNC_sd], wtHFD: [vo2_d1_wtHFD, vo2_d1_wtHFD_sd], koNC: [vo2_d1_koNC, vo2_d1_koNC_sd], koHFD: [vo2_d1_koHFD, vo2_d1_koHFD_sd] },
        { wtNC: [vo2_d45_wtNC, vo2_d45_wtNC_sd], wtHFD: [vo2_d45_wtHFD, vo2_d45_wtHFD_sd], koNC: [vo2_d45_koNC, vo2_d45_koNC_sd], koHFD: [vo2_d45_koHFD, vo2_d45_koHFD_sd] },
        { wtNC: [vo2_d72_wtNC, vo2_d72_wtNC_sd], wtHFD: [vo2_d72_wtHFD, vo2_d72_wtHFD_sd], koNC: [vo2_d72_koNC, vo2_d72_koNC_sd], koHFD: [vo2_d72_koHFD, vo2_d72_koHFD_sd] }
    ],
    vco2: [
        { wtNC: [vco2_d0_wtNC, vco2_d0_wtNC_sd], wtHFD: [vco2_d0_wtHFD, vco2_d0_wtHFD_sd], koNC: [vco2_d0_koNC, vco2_d0_koNC_sd], koHFD: [vco2_d0_koHFD, vco2_d0_koHFD_sd] },
        { wtNC: [vco2_d1_wtNC, vco2_d1_wtNC_sd], wtHFD: [vco2_d1_wtHFD, vco2_d1_wtHFD_sd], koNC: [vco2_d1_koNC, vco2_d1_koNC_sd], koHFD: [vco2_d1_koHFD, vco2_d1_koHFD_sd] },
        { wtNC: [vco2_d45_wtNC, vco2_d45_wtNC_sd], wtHFD: [vco2_d45_wtHFD, vco2_d45_wtHFD_sd], koNC: [vco2_d45_koNC, vco2_d45_koNC_sd], koHFD: [vco2_d45_koHFD, vco2_d45_koHFD_sd] },
        { wtNC: [vco2_d72_wtNC, vco2_d72_wtNC_sd], wtHFD: [vco2_d72_wtHFD, vco2_d72_wtHFD_sd], koNC: [vco2_d72_koNC, vco2_d72_koNC_sd], koHFD: [vco2_d72_koHFD, vco2_d72_koHFD_sd] }
    ],
    rer: [
        { wtNC: [rer_d0_wtNC, rer_d0_wtNC_sd], wtHFD: [rer_d0_wtHFD, rer_d0_wtHFD_sd], koNC: [rer_d0_koNC, rer_d0_koNC_sd], koHFD: [rer_d0_koHFD, rer_d0_koHFD_sd] },
        { wtNC: [rer_d1_wtNC, rer_d1_wtNC_sd], wtHFD: [rer_d1_wtHFD, rer_d1_wtHFD_sd], koNC: [rer_d1_koNC, rer_d1_koNC_sd], koHFD: [rer_d1_koHFD, rer_d1_koHFD_sd] },
        { wtNC: [rer_d45_wtNC, rer_d45_wtNC_sd], wtHFD: [rer_d45_wtHFD, rer_d45_wtHFD_sd], koNC: [rer_d45_koNC, rer_d45_koNC_sd], koHFD: [rer_d45_koHFD, rer_d45_koHFD_sd] },
        { wtNC: [rer_d72_wtNC, rer_d72_wtNC_sd], wtHFD: [rer_d72_wtHFD, rer_d72_wtHFD_sd], koNC: [rer_d72_koNC, rer_d72_koNC_sd], koHFD: [rer_d72_koHFD, rer_d72_koHFD_sd] }
    ]
};

// -------------------------
// Look & layout
// -------------------------
const DAY_GAP = 27; // hours between day origins on the shared x axis
const LOOK = {
    koHFD: { label: 'KO HFD', color: '#2e75b6', err: '#8a8a8a', shape: 'circle', r: 4.5 },
    koNC:  { label: 'KO NC',  color: '#9dc3e6', err: '#8a8a8a', shape: 'circle', r: 4.5 },
    wtHFD: { label: 'WT HFD', color: '#000000', err: '#000000', shape: 'rect',   r: 7 },
    wtNC:  { label: 'WT NC',  color: '#7f7f7f', err: '#7f7f7f', shape: 'rect',   r: 7 }
};
const DRAW_ORDER = ['koHFD', 'koNC', 'wtHFD', 'wtNC']; // first one ends up on top

const PANELS = [
    { id: 'vo2', min: 20, max: 90, step: 10, sdUnit: 1, padTop: 47, yWidth: 153, padRight: 18, xPad: 19,
      font: 'DejaVu Sans', size: 27,
      dark: [[12.25, 24, 88.7, false], [12, 24, 89, false], [11.5, 23.5, 88.7, false], [11.5, 23.6, 89.2, true]] },
    { id: 'vco2', min: 20, max: 90, step: 10, sdUnit: 1, padTop: 39, yWidth: 157, padRight: 18, xPad: 12,
      font: 'Lato', size: 32,
      dark: [[12.3, 24, 89.1, true], [12.1, 24, 89.4, true], [11.75, 24, 89.1, true], [11.7, 24, 89.6, true]] },
    { id: 'rer', min: 0.5, max: 1.2, step: 0.1, sdUnit: 0.01, padTop: 42, yWidth: 161, padRight: 18, xPad: 12,
      font: 'Lato', size: 32, decimals: 1,
      dark: [[12.35, 24, 1.19, true], [12.25, 24, 1.19, true], [11.8, 23.8, 1.194, true], [11.9, 24, 1.194, true]] }
];

// -------------------------
// Plugin: dark-phase boxes + upper error bars
// -------------------------
function drawDark(chart, onTop) {
    const { ctx, chartArea, scales: { x, y } } = chart;
    const boxes = chart.options.plugins.darkPhase.boxes;
    ctx.save();
    ctx.fillStyle = onTop ? 'rgba(127,127,127,0.4)' : '#cccccc';
    boxes.forEach(b => {
        if (b.onTop !== onTop) return;
        const x0 = x.getPixelForValue(b.from);
        const x1 = x.getPixelForValue(b.to);
        const yt = y.getPixelForValue(b.top);
        ctx.fillRect(x0, yt, x1 - x0, chartArea.bottom - 1.5 - yt);
    });
    ctx.restore();
}

const darkPhase = {
    id: 'darkPhase',
    beforeDatasetsDraw(chart) {
        drawDark(chart, false);
        const { ctx, scales: { y } } = chart;
        for (let i = chart.data.datasets.length - 1; i >= 0; i--) {
            const ds = chart.data.datasets[i];
            const meta = chart.getDatasetMeta(i);
            ctx.save();
            ctx.strokeStyle = ds.errColor;
            ctx.lineWidth = 2;
            ctx.beginPath();
            meta.data.forEach((pt, j) => {
                const top = y.getPixelForValue(ds.data[j].y + ds.sd[j]);
                ctx.moveTo(pt.x, pt.y);
                ctx.lineTo(pt.x, top);
                ctx.moveTo(pt.x - 6, top);
                ctx.lineTo(pt.x + 6, top);
            });
            ctx.stroke();
            ctx.restore();
        }
    },
    afterDatasetsDraw(chart) {
        drawDark(chart, true);
    }
};

// -------------------------
// Build one chart per panel (4 days side by side on one axis)
// -------------------------
function buildPanel(p) {
    const datasets = [];
    DRAW_ORDER.forEach(key => {
        const look = LOOK[key];
        TABLES[p.id].forEach((day, di) => {
            const [vals, sd] = day[key];
            datasets.push({
                label: look.label + ' ' + DAYS[di],
                data: HOURS.map((h, i) => ({ x: di * DAY_GAP + h, y: vals[i] })),
                sd: sd.map(v => v * p.sdUnit),
                errColor: look.err,
                borderColor: look.color,
                backgroundColor: look.color,
                borderWidth: 5,
                pointStyle: look.shape,
                pointRadius: look.r,
                pointBackgroundColor: look.color,
                pointBorderColor: look.color,
                pointBorderWidth: 1,
                tension: 0,
                clip: 10
            });
        });
    });

    const tickFont = { family: p.font, size: p.size };
    const xTicks = [];
    DAYS.forEach((d, di) => HOURS.forEach(h => xTicks.push({ value: di * DAY_GAP + h })));

    new Chart(document.getElementById(p.id), {
        type: 'line',
        data: { datasets },
        plugins: [darkPhase],
        options: {
            responsive: false,
            animation: false,
            devicePixelRatio: 1,
            layout: { padding: { top: p.padTop, left: 0, right: p.padRight, bottom: 0 } },
            plugins: {
                legend: { display: false },
                tooltip: { enabled: false },
                darkPhase: {
                    boxes: p.dark.map((b, di) => ({ from: di * DAY_GAP + b[0], to: di * DAY_GAP + b[1], top: b[2], onTop: b[3] }))
                }
            },
            scales: {
                x: {
                    type: 'linear',
                    min: 0,
                    max: 3 * DAY_GAP + 24,
                    afterBuildTicks: s => { s.ticks = xTicks.map(t => ({ value: t.value })); },
                    afterFit: s => { s.height = 70; s.paddingLeft = 0; s.paddingRight = 0; },
                    ticks: {
                        autoSkip: false,
                        maxRotation: 0,
                        minRotation: 0,
                        padding: p.xPad,
                        color: '#000',
                        font: tickFont,
                        callback: v => {
                            const h = v - Math.floor(v / DAY_GAP) * DAY_GAP;
                            return HOUR_LABELS.includes(h) ? String(h) : '';
                        }
                    },
                    grid: { drawOnChartArea: false, drawTicks: true, tickLength: 11, color: '#000', lineWidth: 2.5 },
                    border: { display: true, color: '#000', width: 3 }
                },
                y: {
                    min: p.min,
                    max: p.max,
                    afterFit: s => { s.width = p.yWidth; s.paddingTop = 0; s.paddingBottom = 0; },
                    ticks: {
                        stepSize: p.step,
                        padding: 16,
                        color: '#000',
                        font: tickFont,
                        callback: v => p.decimals ? v.toFixed(p.decimals) : v
                    },
                    grid: { drawOnChartArea: false, drawTicks: true, tickLength: 12, color: '#000', lineWidth: 2.5 },
                    border: { display: true, color: '#000', width: 3 }
                }
            }
        }
    });
}

PANELS.forEach(buildPanel);
</script>
</body>
</html>
